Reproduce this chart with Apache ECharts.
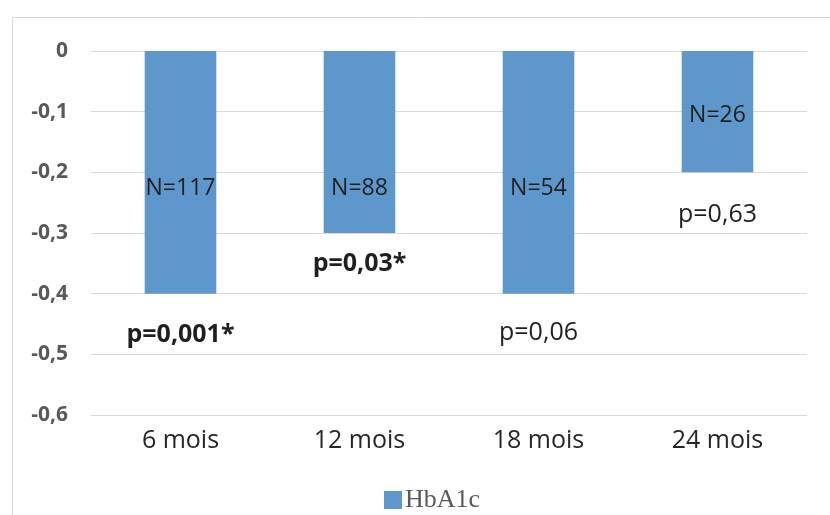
<!DOCTYPE html>
<html><head><meta charset="utf-8">
<script src="https://cdn.jsdelivr.net/npm/echarts@6/dist/echarts.min.js"></script>
<style>html,body{margin:0;padding:0;background:#fff}#c{width:830px;height:515px}</style>
</head><body><div id="c"></div>
<script>
const categories = ['6 mois', '12 mois', '18 mois', '24 mois'];
const hba1c = [-0.4, -0.3, -0.4, -0.2];
const nLabels = ['N=117', 'N=88', 'N=54', 'N=26'];
const nLabelY = [-0.226, -0.226, -0.226, -0.107];
const pLabels = ['p=0,001*', 'p=0,03*', 'p=0,06', 'p=0,63'];
const pLabelY = [-0.468, -0.351, -0.465, -0.270];
const pBold = [true, true, false, false];

const FONT = '"Open Sans", sans-serif';
const chart = echarts.init(document.getElementById('c'), null, {renderer: 'canvas'});
chart.setOption({
  animation: false,
  graphic: [{type: 'rect', shape: {x: 12.5, y: 17.5, width: 830, height: 520},
    style: {fill: 'none', stroke: '#d9d9d9', lineWidth: 1}, silent: true, z: -10}],
  grid: {left: 91, right: 23, top: 51, bottom: 100},
  legend: {
    data: ['HbA1c'], top: 482, left: 379, itemWidth: 18, itemHeight: 18, icon: 'rect', itemGap: 4,
    textStyle: {fontFamily: '"Liberation Serif", serif', fontSize: 26, color: '#595959', padding: [0, 0, 0, -2]}
  },
  xAxis: {
    type: 'category', data: categories,
    axisLine: {show: false}, axisTick: {show: false},
    axisLabel: {fontFamily: FONT, fontSize: 25, color: '#262626', margin: 13}
  },
  yAxis: {
    type: 'value', min: -0.6, max: 0, interval: 0.1,
    axisLine: {show: false}, axisTick: {show: false},
    splitLine: {lineStyle: {color: '#d9d9d9', width: 1}},
    axisLabel: {fontFamily: FONT, fontSize: 21, fontWeight: 'bold', color: '#595959', margin: 23,
      formatter: v => { const r = Math.round(v * 10) / 10; return r === 0 ? '0' : String(r).replace('.', ','); }}
  },
  series: [
    {name: 'HbA1c', type: 'bar', data: hba1c, barWidth: '40%', itemStyle: {color: '#5e97cb'}},
    {type: 'scatter', symbolSize: 0, silent: true, z: 5, itemStyle: {opacity: 1},
      data: nLabelY.map((v, i) => ({value: [i, v], label: {formatter: nLabels[i]}})),
      label: {show: true, position: 'inside', fontFamily: FONT, fontSize: 23, color: '#1f1f1f', opacity: 1}},
    {type: 'scatter', symbolSize: 0, silent: true, z: 5, itemStyle: {opacity: 1},
      data: pLabelY.map((v, i) => ({value: [i, v], label: {formatter: pLabels[i], fontWeight: pBold[i] ? 'bold' : 'normal'}})),
      label: {show: true, position: 'inside', fontFamily: FONT, fontSize: 25, color: '#1f1f1f', opacity: 1}}
  ]
});
</script></body></html>
